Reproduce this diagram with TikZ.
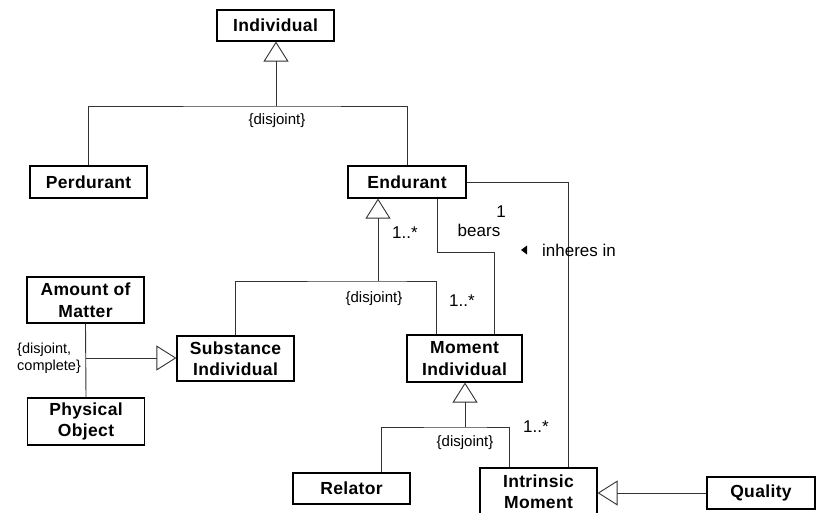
\documentclass[tikz,border=0pt]{standalone}
\usepackage{fontspec}
\setmainfont{Liberation Sans}
\usetikzlibrary{arrows.meta}
\begin{document}
\begin{tikzpicture}[x=1pt,y=-1pt,
  cls/.style={draw, line width=1.2pt, inner sep=0pt, minimum width=117pt, minimum height=31pt, align=center,
    font=\fontsize{17.5}{21.5}\selectfont\bfseries\addfontfeatures{LetterSpace=2}},
  conn/.style={line width=0.9pt, draw=black!80},
  gen/.style={conn, -{Triangle[open, length=20pt, width=25pt]}},
  lbl/.style={font=\fontsize{15}{17}\selectfont, inner sep=0pt, align=left},
  lblb/.style={font=\fontsize{17}{18}\selectfont, inner sep=0pt}]
\useasboundingbox (0,0) rectangle (816,513);
% classes
\node[cls] (ind) at (275.5,25.5) {Individual};
\node[cls, minimum height=32pt] (perd) at (88.5,182) {Perdurant};
\node[cls, minimum width=118pt, minimum height=32pt] (end) at (407,182) {Endurant};
\node[cls, minimum height=46pt] (am) at (85.5,300) {Amount of\\Matter};
\node[cls, minimum height=47pt] (po) at (86,421.5) {Physical\\Object};
\node[cls, minimum height=45pt] (sub) at (235.5,358.5) {Substance\\Individual};
\node[cls, minimum width=115pt, minimum height=47pt] (mom) at (464.5,358.5) {Moment\\Individual};
\node[cls] (rel) at (351.5,488.5) {Relator};
\node[cls, minimum height=47pt] (intr) at (538.5,491.5) {Intrinsic\\Moment};
\node[cls, minimum width=108pt, minimum height=32pt] (qual) at (761,493) {Quality};
% junctions
\coordinate (j1) at (276,106);
\coordinate (j2) at (378,281);
\coordinate (j3) at (465,427);
\coordinate (j4) at (86,358);
% connectors
\draw[conn] (perd.north) |- (j1) -| (end.north);
\draw[gen] (j1) -- (j1 |- ind.south);
\draw[conn] (sub.north) |- (j2) -| ([xshift=-28.5pt]mom.north);
\draw[gen] (j2) -- (j2 |- end.south);
\draw[conn] ([xshift=30pt]end.south) -- ++(0,54) -| ([xshift=29.5pt]mom.north);
\draw[conn] (end.east) -| ([xshift=29.5pt]intr.north);
\draw[conn] ([xshift=29.5pt]rel.north) |- (j3) -| ([xshift=-29.5pt]intr.north);
\draw[gen] (j3) -- (j3 |- mom.south);
\draw[conn] (am.south) -- (po.north);
\draw[gen] (j4) -- (j4 -| sub.west);
\draw[gen] (qual.west) -- (qual.west -| intr.east);
% labels
\node[lbl] (d1) at (277,121) {\{disjoint\}};
\node[lbl] (d2) at (374,299) {\{disjoint\}};
\node[lbl] (d3) at (465,443) {\{disjoint\}};
\node[lbl, anchor=west, font=\fontsize{14.5}{17}\selectfont] (d4) at (17,358) {\{disjoint,\\complete\}};
\node[lblb] (m1) at (405,233) {1..*};
\node[lblb] (m2) at (501,212) {1};
\node[lblb] (bears) at (479,230) {bears};
\node[lblb] (m3) at (462,301) {1..*};
\node[lblb] (m4) at (536,427) {1..*};
\node[lblb, anchor=west] (inh) at (542,250) {inheres in};
\fill (521,250) -- (527,245.5) -- (527,254.5) -- cycle;
\end{tikzpicture}
\end{document}
